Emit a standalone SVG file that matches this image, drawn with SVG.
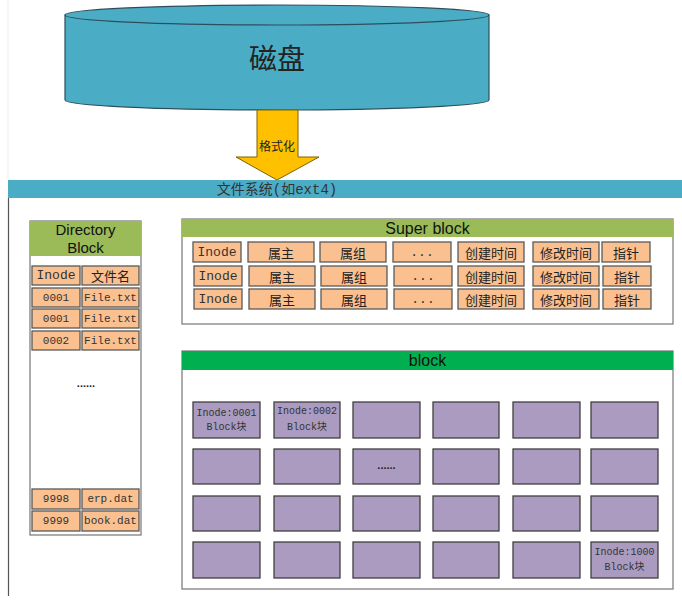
<svg xmlns="http://www.w3.org/2000/svg" width="682" height="608" viewBox="0 0 682 608">
<style>
.cell{fill:#FAC090;stroke:#595959;stroke-width:1.3}
.blk{fill:#AB9BC0;stroke:#404040;stroke-width:1.3}
.frame{fill:#fff;stroke:#808080;stroke-width:1.3}
.cjk{font-family:"Noto Sans CJK SC",sans-serif;fill:#222}
.mono{font-family:"Liberation Mono","Noto Sans CJK SC",monospace;fill:#333}
.dots{font-family:"Liberation Sans",sans-serif;fill:#222;font-weight:bold}
.hd{font-family:"Liberation Sans","Noto Sans",sans-serif;fill:#111;text-anchor:middle}
text{dominant-baseline:central}
</style>
<rect width="682" height="608" fill="#fff"/>
<line x1="8" y1="0" x2="8" y2="180" stroke="#eee" stroke-width="1"/>
<g id="disk">
<path d="M65,15 L65,100 A212,10 0 0 0 489,100 L489,15 Z" fill="#4BACC6" stroke="#2d4f5c" stroke-width="1.2"/>
<ellipse cx="277" cy="15" rx="212" ry="10" fill="#4BACC6" stroke="#2d4f5c" stroke-width="1.2"/>
<text x="277" y="57" class="cjk" font-size="28" text-anchor="middle" fill="#111">磁盘</text>
</g>
<g id="format-arrow">
<path d="M257,110 L298,110 L298,157 L319,157 L277,180 L236,157 L257,157 Z" fill="#FFC000" stroke="#7f6000" stroke-width="1"/>
<text x="277" y="145" class="cjk" font-size="12" text-anchor="middle">格式化</text>
</g>
<g id="filesystem">
<rect x="8" y="180" width="674" height="18" fill="#4BACC6"/>
<line x1="8.5" y1="198" x2="8.5" y2="596" stroke="#555" stroke-width="1.2"/>
<text x="277" y="189.5" class="mono" font-size="14" text-anchor="middle">文件系统(如ext4)</text>
</g>
<g id="directory-block">
<rect x="30" y="221" width="111" height="314" class="frame"/>
<rect x="30" y="221" width="111" height="35" fill="#9BBB59"/>
<text x="85.5" y="229.5" class="hd" font-size="15">Directory</text>
<text x="85.5" y="247.5" class="hd" font-size="15">Block</text>
<g font-size="11" text-anchor="middle">
<rect x="32" y="266" width="48" height="19" class="cell"/><text x="56" y="275.5" class="mono" font-size="13">Inode</text>
<rect x="82" y="266" width="57" height="19" class="cell"/><text x="110.5" y="275.5" class="cjk" font-size="13">文件名</text>
<rect x="32" y="288" width="48" height="19" class="cell"/><text x="56" y="297.5" class="mono">0001</text>
<rect x="82" y="288" width="57" height="19" class="cell"/><text x="110.5" y="297.5" class="mono">File.txt</text>
<rect x="32" y="309" width="48" height="19" class="cell"/><text x="56" y="318.5" class="mono">0001</text>
<rect x="82" y="309" width="57" height="19" class="cell"/><text x="110.5" y="318.5" class="mono">File.txt</text>
<rect x="32" y="331" width="48" height="19" class="cell"/><text x="56" y="340.5" class="mono">0002</text>
<rect x="82" y="331" width="57" height="19" class="cell"/><text x="110.5" y="340.5" class="mono">File.txt</text>
<text x="86" y="383" class="dots" font-size="11">......</text>
<rect x="32" y="489" width="48" height="20" class="cell"/><text x="56" y="499" class="mono">9998</text>
<rect x="82" y="489" width="57" height="20" class="cell"/><text x="110.5" y="499" class="mono">erp.dat</text>
<rect x="32" y="511" width="48" height="20" class="cell"/><text x="56" y="521" class="mono">9999</text>
<rect x="82" y="511" width="57" height="20" class="cell"/><text x="110.5" y="521" class="mono">book.dat</text>
</g>
</g>
<g id="super-block">
<rect x="182" y="219" width="491" height="105" class="frame"/>
<rect x="182" y="219" width="491" height="18" fill="#9BBB59"/>
<text x="427.5" y="228" class="hd" font-size="16">Super block</text>
<g font-size="13" text-anchor="middle">
<g>
<rect x="193" y="242" width="48" height="20" class="cell"/><text x="217" y="252" class="mono">Inode</text>
<rect x="248" y="242" width="66" height="20" class="cell"/><text x="281" y="252" class="cjk">属主</text>
<rect x="320" y="242" width="66" height="20" class="cell"/><text x="353" y="252" class="cjk">属组</text>
<rect x="393" y="242" width="58" height="20" class="cell"/><text x="422" y="252" class="mono">...</text>
<rect x="458" y="242" width="66" height="20" class="cell"/><text x="491" y="252" class="cjk">创建时间</text>
<rect x="533" y="242" width="66" height="20" class="cell"/><text x="566" y="252" class="cjk">修改时间</text>
<rect x="602" y="242" width="48" height="20" class="cell"/><text x="626" y="252" class="cjk">指针</text>
</g>
<g>
<rect x="194" y="266" width="48" height="20" class="cell"/><text x="218" y="276" class="mono">Inode</text>
<rect x="249" y="266" width="66" height="20" class="cell"/><text x="282" y="276" class="cjk">属主</text>
<rect x="321" y="266" width="66" height="20" class="cell"/><text x="354" y="276" class="cjk">属组</text>
<rect x="394" y="266" width="58" height="20" class="cell"/><text x="423" y="276" class="mono">...</text>
<rect x="458" y="266" width="66" height="20" class="cell"/><text x="491" y="276" class="cjk">创建时间</text>
<rect x="533" y="266" width="66" height="20" class="cell"/><text x="566" y="276" class="cjk">修改时间</text>
<rect x="603" y="266" width="48" height="20" class="cell"/><text x="627" y="276" class="cjk">指针</text>
</g>
<g>
<rect x="194" y="289" width="48" height="20" class="cell"/><text x="218" y="299" class="mono">Inode</text>
<rect x="249" y="289" width="66" height="20" class="cell"/><text x="282" y="299" class="cjk">属主</text>
<rect x="321" y="289" width="66" height="20" class="cell"/><text x="354" y="299" class="cjk">属组</text>
<rect x="394" y="289" width="58" height="20" class="cell"/><text x="423" y="299" class="mono">...</text>
<rect x="458" y="289" width="66" height="20" class="cell"/><text x="491" y="299" class="cjk">创建时间</text>
<rect x="533" y="289" width="66" height="20" class="cell"/><text x="566" y="299" class="cjk">修改时间</text>
<rect x="603" y="289" width="48" height="20" class="cell"/><text x="627" y="299" class="cjk">指针</text>
</g>
</g>
</g>
<g id="block">
<rect x="182" y="351" width="491" height="238" class="frame"/>
<rect x="182" y="351" width="491" height="19" fill="#00B050"/>
<text x="427.5" y="360" class="hd" font-size="16">block</text>
<g>
<rect x="193" y="402" width="67" height="36" class="blk"/>
<rect x="274" y="402" width="66" height="36" class="blk"/>
<rect x="353" y="402" width="67" height="36" class="blk"/>
<rect x="433" y="402" width="66" height="36" class="blk"/>
<rect x="513" y="402" width="67" height="36" class="blk"/>
<rect x="591" y="402" width="67" height="36" class="blk"/>
<rect x="193" y="449" width="67" height="35" class="blk"/>
<rect x="274" y="449" width="66" height="35" class="blk"/>
<rect x="353" y="449" width="67" height="35" class="blk"/>
<rect x="433" y="449" width="66" height="35" class="blk"/>
<rect x="513" y="449" width="67" height="35" class="blk"/>
<rect x="591" y="449" width="67" height="35" class="blk"/>
<rect x="193" y="496" width="67" height="35" class="blk"/>
<rect x="274" y="496" width="66" height="35" class="blk"/>
<rect x="353" y="496" width="67" height="35" class="blk"/>
<rect x="433" y="496" width="66" height="35" class="blk"/>
<rect x="513" y="496" width="67" height="35" class="blk"/>
<rect x="591" y="496" width="67" height="35" class="blk"/>
<rect x="193" y="542" width="67" height="36" class="blk"/>
<rect x="274" y="542" width="66" height="36" class="blk"/>
<rect x="353" y="542" width="67" height="36" class="blk"/>
<rect x="433" y="542" width="66" height="36" class="blk"/>
<rect x="513" y="542" width="67" height="36" class="blk"/>
<rect x="591" y="542" width="67" height="36" class="blk"/>
</g>
<g font-size="10" text-anchor="middle">
<text x="226.5" y="413" class="mono">Inode:0001</text>
<text x="226.5" y="427" class="mono">Block块</text>
<text x="307" y="411" class="mono">Inode:0002</text>
<text x="307" y="427" class="mono">Block块</text>
<text x="386.5" y="465" class="dots" font-size="11">......</text>
<text x="624.5" y="552" class="mono">Inode:1000</text>
<text x="624.5" y="567" class="mono">Block块</text>
</g>
</g>
</svg>
